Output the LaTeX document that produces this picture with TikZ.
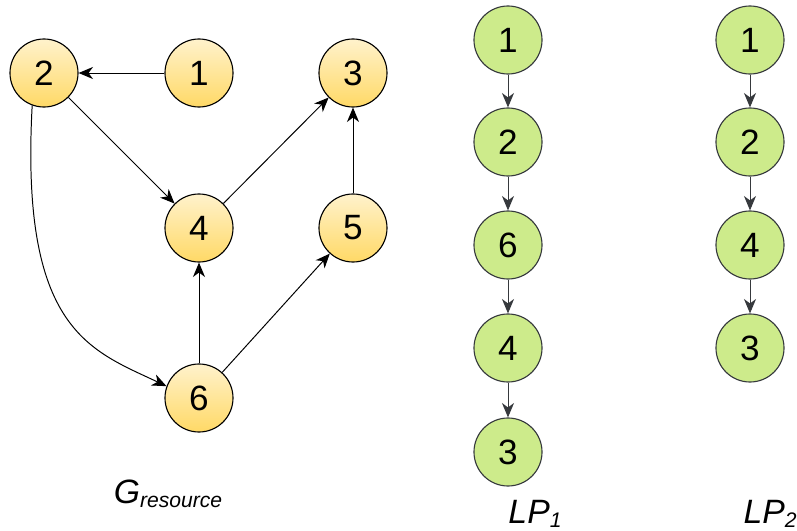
\documentclass[tikz,border=0pt]{standalone}
\usepackage{fontspec}
\setmainfont{Liberation Sans}
\usepackage{tikz}
\usetikzlibrary{arrows.meta}
\definecolor{resfilltop}{RGB}{255,242,204}
\definecolor{resfillbot}{RGB}{255,217,102}
\definecolor{lpfill}{RGB}{205,235,139}
\definecolor{lpline}{RGB}{54,57,61}
\newcommand{\sublabel}[2]{\textit{#1}\raisebox{-0.2ex}{\fontsize{15}{17}\selectfont\textit{#2}}}
\tikzset{
    common/.style={circle, draw, line width=0.8pt, minimum size=1.7cm, inner sep=0pt, font=\fontsize{25}{28}\selectfont},
    res/.style={common, draw=black, top color=resfilltop, bottom color=resfillbot},
    lp/.style={common, draw=lpline, fill=lpfill},
    resedge/.style={-{Stealth[length=3.6mm, width=3mm, inset=1.1mm]}, line width=0.7pt, black},
    lpedge/.style={-{Stealth[length=3.6mm, width=3mm, inset=1.1mm]}, line width=0.7pt, lpline},
    caption/.style={font=\fontsize{24}{28}\selectfont}
}
\begin{document}
\begin{tikzpicture}[x=0.025cm, y=-0.025cm]
  \useasboundingbox (0,0) rectangle (797,531);

  % resource graph
  \node[res] (r2) at (44,73) {2};
  \node[res] (r1) at (199,73) {1};
  \node[res] (r3) at (353,73) {3};
  \node[res] (r4) at (199,228) {4};
  \node[res] (r5) at (353,228) {5};
  \node[res] (r6) at (199,398) {6};
  \node[caption] (g-label) at (168,494) {\sublabel{G}{resource}};

  \draw[resedge] (r1) -- (r2);
  \draw[resedge] (r2) -- (r4);
  \draw[resedge] (r4) -- (r3);
  \draw[resedge] (r5) -- (r3);
  \draw[resedge] (r6) -- (r4);
  \draw[resedge] (r6) -- (r5);
  \draw[resedge] (r2.250) .. controls (20,330) and (90,350) .. (r6.160);

  % LP1
  \node[lp] (a1) at (508,40) {1};
  \node[lp] (a2) at (508,142) {2};
  \node[lp] (a6) at (508,245) {6};
  \node[lp] (a4) at (508,348) {4};
  \node[lp] (a3) at (508,452) {3};
  \node[caption] (lp1-label) at (535,514) {\sublabel{LP}{1}};

  \draw[lpedge] (a1) -- (a2);
  \draw[lpedge] (a2) -- (a6);
  \draw[lpedge] (a6) -- (a4);
  \draw[lpedge] (a4) -- (a3);

  % LP2
  \node[lp] (b1) at (750,40) {1};
  \node[lp] (b2) at (750,142) {2};
  \node[lp] (b4) at (750,245) {4};
  \node[lp] (b3) at (750,348) {3};
  \node[caption] (lp2-label) at (770,514) {\sublabel{LP}{2}};

  \draw[lpedge] (b1) -- (b2);
  \draw[lpedge] (b2) -- (b4);
  \draw[lpedge] (b4) -- (b3);
\end{tikzpicture}
\end{document}
